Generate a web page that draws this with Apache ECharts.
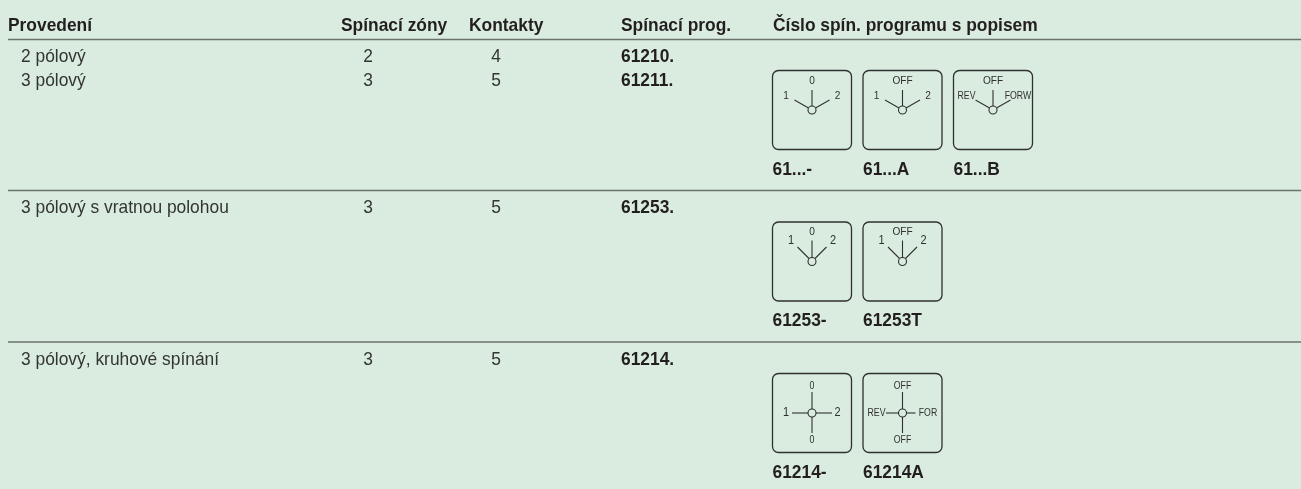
<!DOCTYPE html>
<html>
<head>
<meta charset="utf-8">
<style>html,body{margin:0;padding:0;background:#d9ecdf}#c{width:1301px;height:489px}</style>
<script src="https://cdn.jsdelivr.net/npm/echarts@6/dist/echarts.min.js"></script>
</head>
<body>
<div id="c"></div>
<script>
// ---- data ----
var headers = ['Provedení', 'Spínací zóny', 'Kontakty', 'Spínací prog.', 'Číslo spín. programu s popisem'];
var variants = ['2 pólový', '3 pólový', '3 pólový s vratnou polohou', '3 pólový, kruhové spínání'];
var zones = ['2', '3', '3', '3'];
var contacts = ['4', '5', '5', '5'];
var programs = ['61210.', '61211.', '61253.', '61214.'];
var diagramCodes = ['61...-', '61...A', '61...B', '61253-', '61253T', '61214-', '61214A'];
var diagramTopLabels = ['0', 'OFF', 'OFF', '0', 'OFF', '0', 'OFF'];
var diagramLeftLabels = ['1', '1', 'REV', '1', '1', '1', 'REV'];
var diagramRightLabels = ['2', '2', 'FORW', '2', '2', '2', 'FOR'];
var diagramBottomLabels = ['', '', '', '', '', '0', 'OFF'];

// ---- layout (pixel units on hidden axes) ----
var BG = '#d9ecdf', HEAD = '#231f20', BODY = '#333533', RULE = '#6a726b', ICON = '#303030';
var FAMILY = '"Liberation Sans",sans-serif';
var rowY = [57, 81, 207.5, 359.5];
var ruleY = [39.5, 190.5, 342];
var ruleLeft = 8;
var headY = 25.5;
var colHead = [8, 341, 469, 621, 773];
var colVariant = 21, colZones = 368, colContacts = 496, colProg = 621;
var boxX = [772.5, 863, 953.5, 772.5, 863, 772.5, 863];
var boxY = [70.5, 70.5, 70.5, 222, 222, 373.5, 373.5];
var BOX = 79;
var kinds = ['y', 'y', 'y', 'v', 'v', 'x', 'x'];
var TABLE_PX = 19, TABLE_SCALE = 0.915;

function text(api, x, y, str, font, fill, align, sx) {
  var p = api.coord([x, y]);
  return {type: 'text', x: p[0], y: p[1], scaleX: sx, scaleY: 1, silent: true,
    style: {text: str, x: 0, y: 0, font: font, fill: fill, align: align || 'left', verticalAlign: 'middle'}};
}
function seg(api, x1, y1, x2, y2, color, w) {
  var a = api.coord([x1, y1]), b = api.coord([x2, y2]);
  return {type: 'line', shape: {x1: a[0], y1: a[1], x2: b[0], y2: b[1]}, style: {stroke: color, lineWidth: w, fill: null}, silent: true};
}

function renderTable(params, api) {
  var ch = [];
  var bold = 'bold ' + TABLE_PX + 'px ' + FAMILY, reg = TABLE_PX + 'px ' + FAMILY;
  headers.forEach(function (h, i) { ch.push(text(api, colHead[i], headY, h, bold, HEAD, 'left', TABLE_SCALE)); });
  ruleY.forEach(function (y) { ch.push(seg(api, ruleLeft, y, 1301, y, RULE, 1.5)); });
  variants.forEach(function (v, i) {
    var y = rowY[i];
    ch.push(text(api, colVariant, y, v, reg, BODY, 'left', TABLE_SCALE));
    ch.push(text(api, colZones, y, zones[i], reg, BODY, 'center', TABLE_SCALE));
    ch.push(text(api, colContacts, y, contacts[i], reg, BODY, 'center', TABLE_SCALE));
    ch.push(text(api, colProg, y, programs[i], bold, HEAD, 'left', TABLE_SCALE));
  });
  return {type: 'group', children: ch};
}

function renderDiagram(params, api) {
  var i = api.value(0), x = boxX[i], y = boxY[i], k = kinds[i];
  var tl = api.coord([x, y]);
  var cx = x + 39.5, cy = y + 39.5;
  var ch = [{type: 'rect', shape: {x: tl[0], y: tl[1], width: BOX, height: BOX, r: 6}, style: {fill: 'none', stroke: ICON, lineWidth: 1.3}, silent: true}];
  var c = api.coord([cx, cy]);
  var lf = '11.5px ' + FAMILY, lf2 = '12.5px ' + FAMILY, sx = 0.88, sn = 0.76;
  var long = diagramLeftLabels[i].length > 1;
  var sw = long ? sn : sx;
  if (k === 'y') {
    ch.push(seg(api, cx, cy - 4, cx, cy - 20, ICON, 1.1));
    ch.push(seg(api, cx - 3.5, cy - 2, cx - 17.5, cy - 10, ICON, 1.1));
    ch.push(seg(api, cx + 3.5, cy - 2, cx + 17.5, cy - 10, ICON, 1.1));
    ch.push(text(api, cx, cy - 29, diagramTopLabels[i], lf, ICON, 'center', sx));
    ch.push(text(api, long ? cx - 26.5 : cx - 26, cy - 14, diagramLeftLabels[i], lf, ICON, 'center', sw));
    ch.push(text(api, long ? cx + 25 : cx + 25.5, cy - 14, diagramRightLabels[i], lf, ICON, 'center', sw));
  } else if (k === 'v') {
    ch.push(seg(api, cx, cy - 4, cx, cy - 21, ICON, 1.1));
    ch.push(seg(api, cx - 3, cy - 3, cx - 14.5, cy - 14.5, ICON, 1.1));
    ch.push(seg(api, cx + 3, cy - 3, cx + 14.5, cy - 14.5, ICON, 1.1));
    ch.push(text(api, cx, cy - 29.5, diagramTopLabels[i], lf, ICON, 'center', sx));
    ch.push(text(api, cx - 21, cy - 21, diagramLeftLabels[i], lf2, ICON, 'center', sx));
    ch.push(text(api, cx + 21, cy - 21, diagramRightLabels[i], lf2, ICON, 'center', sx));
  } else {
    ch.push(seg(api, cx, cy - 4, cx, cy - 21, ICON, 1.1));
    ch.push(seg(api, cx, cy + 4, cx, cy + 20, ICON, 1.1));
    ch.push(seg(api, cx - 4, cy, cx - (long ? 16.5 : 20), cy, ICON, 1.1));
    ch.push(seg(api, cx + 4, cy, cx + (long ? 13 : 20), cy, ICON, 1.1));
    ch.push(text(api, cx, cy - 27, diagramTopLabels[i], lf, ICON, 'center', sn));
    ch.push(text(api, cx, cy + 27, diagramBottomLabels[i], lf, ICON, 'center', sn));
    ch.push(text(api, cx - 26, cy, diagramLeftLabels[i], long ? lf : lf2, ICON, 'center', sw));
    ch.push(text(api, cx + 25.5, cy, diagramRightLabels[i], long ? lf : lf2, ICON, 'center', sw));
  }
  ch.push({type: 'circle', shape: {cx: c[0], cy: c[1], r: 4}, style: {fill: BG, stroke: ICON, lineWidth: 1.1}, silent: true});
  ch.push(text(api, x, y + 99, diagramCodes[i], 'bold ' + TABLE_PX + 'px ' + FAMILY, HEAD, 'left', TABLE_SCALE));
  return {type: 'group', children: ch};
}

var chart = echarts.init(document.getElementById('c'), null, {renderer: 'canvas'});
chart.setOption({
  animation: false,
  backgroundColor: BG,
  grid: {left: 0, right: 0, top: 0, bottom: 0},
  xAxis: {type: 'value', min: 0, max: 1301, show: false},
  yAxis: {type: 'value', min: 0, max: 489, inverse: true, show: false},
  series: [
    {type: 'custom', coordinateSystem: 'cartesian2d', clip: false, silent: true, renderItem: renderTable, data: [[0]]},
    {type: 'custom', coordinateSystem: 'cartesian2d', clip: false, silent: true, renderItem: renderDiagram,
     data: diagramCodes.map(function (c, i) { return [i]; })}
  ]
});
</script>
</body>
</html>
